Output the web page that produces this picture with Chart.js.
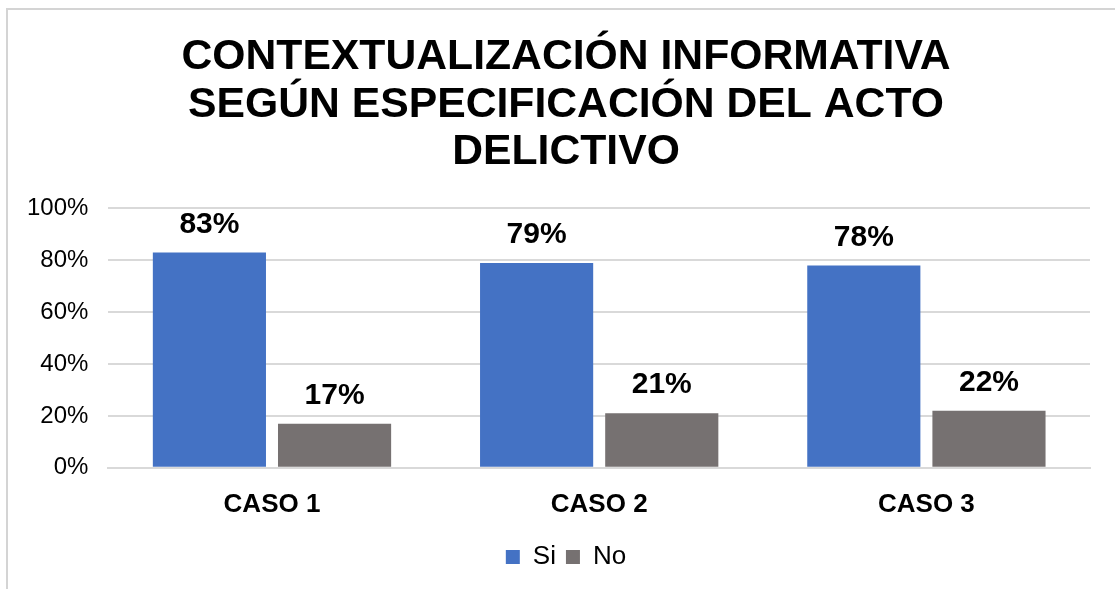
<!DOCTYPE html>
<html>
<head>
<meta charset="utf-8">
<script src="https://cdn.jsdelivr.net/npm/chart.js@4.4.0/dist/chart.umd.min.js"></script>
<style>
  html, body { margin: 0; padding: 0; background: #fff; overflow: hidden; }
  #wrap { position: absolute; left: 6px; top: 8px; width: 1115px; height: 589px;
          border-top: 2px solid #d4d4d4; border-left: 2px solid #d4d4d4; }
  #box { position: absolute; left: 0; top: 0; width: 1135px; height: 589px; }
</style>
</head>
<body>
<div id="wrap"></div>
<div id="box"><canvas id="myChart"></canvas></div>
<script>
let categories = ["CASO 1", "CASO 2", "CASO 3"]
let siValues = [83, 79, 78]
let noValues = [17, 21, 22]
let yTicks = [0, 20, 40, 60, 80, 100]

let font = "'Liberation Sans', Arial, sans-serif"

// percent labels above each bar
let barLabels = {
    id: "barLabels",
    afterDatasetsDraw(chart) {
        let c = chart.ctx
        c.save()
        c.font = "bold 30px " + font
        c.fillStyle = "#000"
        c.textAlign = "center"
        c.textBaseline = "alphabetic"
        chart.data.datasets.forEach((ds, i) => {
            chart.getDatasetMeta(i).data.forEach((bar, j) => {
                c.fillText(ds.data[j] + "%", bar.x, bar.y - 20)
            })
        })
        c.restore()
    }
}

let ctx = document.getElementById("myChart")
let myChart = new Chart(ctx, {
    type: "bar",
    data: {
        labels: categories,
        datasets: [{
            label: "Si",
            data: siValues,
            backgroundColor: "#4472C4",
            categoryPercentage: 0.765,
            barPercentage: 0.904
        }, {
            label: "No",
            data: noValues,
            backgroundColor: "#767171",
            categoryPercentage: 0.765,
            barPercentage: 0.904
        }]
    },
    options: {
        responsive: true,
        maintainAspectRatio: false,
        animation: false,
        layout: { padding: { left: 7, right: 10, top: 33, bottom: 9 } },
        plugins: {
            title: {
                display: true,
                text: ["CONTEXTUALIZACIÓN INFORMATIVA", "SEGÚN ESPECIFICACIÓN DEL ACTO", "DELICTIVO"],
                color: "#000",
                font: { family: font, size: 42.7, weight: "bold", lineHeight: 1.12 },
                padding: { top: 0, bottom: 32 }
            },
            legend: {
                position: "bottom",
                labels: {
                    color: "#000",
                    font: { family: font, size: 26 },
                    boxWidth: 14,
                    boxHeight: 14,
                    padding: 10
                }
            },
            tooltip: { enabled: false }
        },
        scales: {
            x: {
                grid: { display: false },
                border: { color: "#d9d9d9", width: 2 },
                ticks: { color: "#000", font: { family: font, size: 26, weight: "bold" }, padding: 13 },
                afterFit: (axis) => { axis.height += 1 }
            },
            y: {
                min: 0,
                max: 100,
                afterBuildTicks: (axis) => { axis.ticks = yTicks.map((v) => ({ value: v })) },
                grid: { color: "#d9d9d9", lineWidth: 2, drawTicks: false },
                border: { display: false },
                ticks: {
                    color: "#000",
                    font: { family: font, size: 24 },
                    padding: 20,
                    callback: (v) => v + "%"
                }
            },
            // empty strip on the right so the title sits like the original
            side: {
                position: "right",
                grid: { display: false },
                border: { display: false },
                ticks: { display: false },
                afterFit: (axis) => { axis.width = 35 }
            }
        }
    },
    plugins: [barLabels]
})
</script>
</body>
</html>
